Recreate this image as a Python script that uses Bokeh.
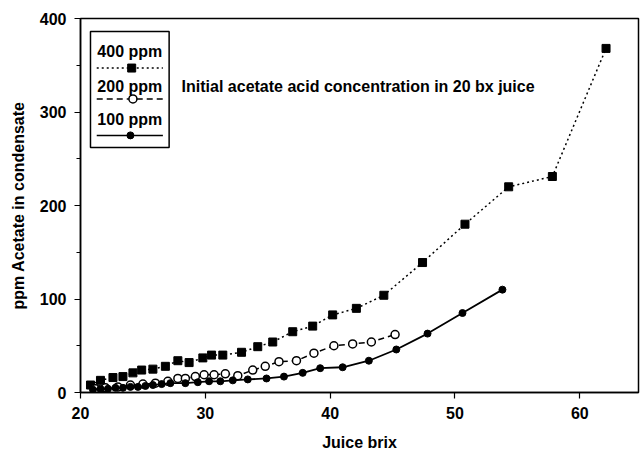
from bokeh.plotting import figure
from bokeh.models import Range1d, SingleIntervalTicker, Label
from bokeh.core.properties import value
from bokeh.embed import file_html
from bokeh.resources import INLINE

# ---- data ----
x400 = [20.8, 21.6, 22.6, 23.4, 24.2, 24.9, 25.8, 26.8, 27.8, 28.7, 29.8, 30.5, 31.4,
        32.9, 34.2, 35.4, 37.0, 38.6, 40.2, 42.1, 44.3, 47.4, 50.8, 54.3, 57.8, 62.1]
y400 = [8, 13, 16, 17, 21, 24, 25, 28, 34, 32, 37, 40, 40,
        43, 49, 54, 65, 71, 83, 90, 104, 139, 180, 220, 231, 368]

x200 = [21.2, 22.0, 23.0, 24.0, 25.0, 26.0, 27.0, 27.8, 28.4, 29.2, 29.9, 30.7, 31.6,
        32.6, 33.8, 34.8, 35.9, 37.3, 38.7, 40.3, 41.8, 43.3, 45.2]
y200 = [4, 5, 6, 8, 9, 10, 12, 15, 15, 17, 19, 19, 20,
        18, 24, 28, 33, 34, 42, 50, 52, 54, 62]

x100 = [21.0, 21.6, 22.2, 22.8, 23.4, 24.0, 24.6, 25.2, 25.8, 26.5, 27.2, 28.4, 29.4,
        30.3, 31.2, 32.2, 33.4, 34.9, 36.3, 37.8, 39.2, 41.0, 43.1, 45.3, 47.8, 50.6, 53.8]
y100 = [3, 4, 4, 5, 5, 6, 6, 7, 8, 9, 10, 10, 11,
        12, 12, 13, 14, 15, 17, 21, 26, 27, 34, 46, 63, 85, 110]

series_labels = ["400 ppm", "200 ppm", "100 ppm"]
annotation_text = "Initial acetate acid concentration in 20 bx juice"
x_label = "Juice brix"
y_label = "ppm Acetate in condensate"

FONT = "Liberation Sans"
FSIZE = "16px"

p = figure(width=640, height=453, output_backend="svg", toolbar_location=None,
           x_range=Range1d(20, 64.7), y_range=Range1d(0, 400),
           min_border_left=80, min_border_right=2, min_border_top=18, min_border_bottom=60)
p.background_fill_color = "white"
p.border_fill_color = "white"
p.outline_line_color = "black"
p.outline_line_width = 1.5
p.xgrid.visible = False
p.ygrid.visible = False

p.xaxis.ticker = SingleIntervalTicker(interval=10, num_minor_ticks=0)
p.yaxis.ticker = SingleIntervalTicker(interval=100, num_minor_ticks=2)
for ax in (p.xaxis[0], p.yaxis[0]):
    ax.axis_line_color = "black"
    ax.axis_line_width = 1.5
    ax.major_tick_line_color = "black"
    ax.major_tick_line_width = 1.2
    ax.major_tick_out = 6
    ax.major_tick_in = 0
    ax.minor_tick_line_color = "black"
    ax.minor_tick_out = 4
    ax.minor_tick_in = 0
    ax.major_label_text_font = FONT
    ax.major_label_text_font_style = "bold"
    ax.major_label_text_font_size = FSIZE
    ax.major_label_text_color = "black"
    ax.axis_label_text_font = FONT
    ax.axis_label_text_font_style = "bold"
    ax.axis_label_text_font_size = FSIZE
    ax.axis_label_text_color = "black"
p.xaxis.axis_label = x_label
p.yaxis.axis_label = y_label
p.xaxis.major_label_standoff = 8
p.xaxis.axis_label_standoff = 12
p.yaxis.major_label_standoff = 8
p.yaxis.axis_label_standoff = 10

# 400 ppm: dotted line with filled squares
p.line(x400, y400, line_color="black", line_width=1.5, line_dash="2 3")
p.scatter(x400, y400, marker="square", size=8, fill_color="black", line_color="black")

# 200 ppm: dashed line with open circles
p.line(x200, y200, line_color="black", line_width=1.5, line_dash="6 4")
p.scatter(x200, y200, marker="circle", size=8, fill_color="white", line_color="black", line_width=1.5)

# 100 ppm: solid line with filled circles
p.line(x100, y100, line_color="black", line_width=1.8)
p.scatter(x100, y100, marker="circle", size=7, fill_color="black", line_color="black")

# ---- legend drawn as in the original (label above sample line) ----
p.quad(left=[20.8], right=[27.1], bottom=[262], top=[386],
       fill_color="white", line_color="black", line_width=1.5)
leg_text_y = [365, 327, 292]
leg_line_y = [347, 314, 275]
p.text(x=[23.95] * 3, y=leg_text_y, text=series_labels, text_align="center",
       text_baseline="middle", text_font=value(FONT), text_font_size=FSIZE,
       text_font_style="bold", text_color="black")
p.line([21.3, 26.6], [leg_line_y[0]] * 2, line_color="black", line_width=1.5, line_dash="2 3")
p.scatter([24.1], [leg_line_y[0]], marker="square", size=8, fill_color="black", line_color="black")
p.line([21.3, 26.6], [leg_line_y[1]] * 2, line_color="black", line_width=1.5, line_dash="6 4")
p.scatter([24.2], [leg_line_y[1]], marker="circle", size=8, fill_color="white",
          line_color="black", line_width=1.5)
p.line([21.3, 26.6], [leg_line_y[2]] * 2, line_color="black", line_width=1.5)
p.scatter([24.0], [leg_line_y[2]], marker="circle", size=7, fill_color="black", line_color="black")

p.add_layout(Label(x=28.1, y=327, text=annotation_text, text_font=FONT,
                   text_font_size=FSIZE, text_font_style="bold",
                   text_color="black", text_baseline="middle"))

open("out.html", "w").write(file_html(p, INLINE))
